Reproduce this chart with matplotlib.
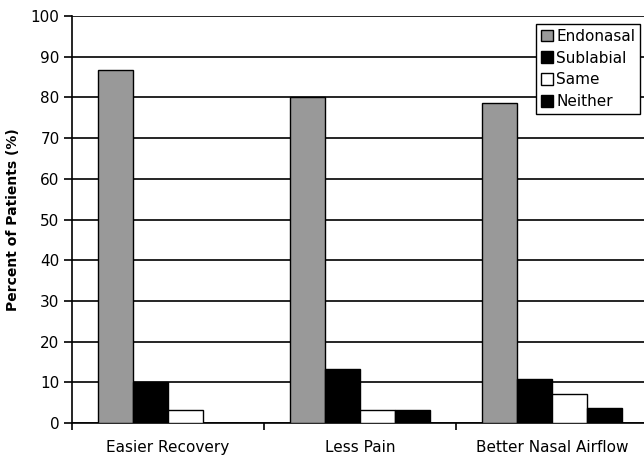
import numpy as np
import matplotlib.pyplot as plt
from matplotlib.ticker import FixedLocator

categories = ['Easier Recovery', 'Less Pain', 'Better Nasal Airflow']
endonasal = [86.7, 80.0, 78.6]
sublabial = [10.0, 13.3, 10.7]
same = [3.3, 3.3, 7.1]
neither = [0.0, 3.3, 3.6]

series = [('Endonasal', endonasal, '#999999'),
          ('Sublabial', sublabial, 'black'),
          ('Same', same, 'white'),
          ('Neither', neither, 'black')]

fig = plt.figure(figsize=(6.44, 4.57), dpi=100)
ax = fig.add_axes([72 / 644, 34 / 457, 576 / 644, 407 / 457])

x = np.arange(len(categories))
w = 0.182
for i, (name, vals, col) in enumerate(series):
    ax.bar(x + (i - 1.5) * w, vals, w, color=col, edgecolor='black',
           linewidth=1.0, label=name, zorder=3)

ax.set_xlim(-0.5, 2.5)
ax.set_ylim(0, 100)
ax.set_yticks(np.arange(0, 101, 10))
ax.yaxis.grid(True, color='black', linewidth=1.2, zorder=0)
ax.set_xticks([-0.5, 0.5, 1.5, 2.5])
ax.set_xticklabels([])
ax.xaxis.set_minor_locator(FixedLocator(x))
ax.set_xticklabels(categories, minor=True)
ax.tick_params(axis='x', which='minor', length=0, pad=12, labelsize=11)
ax.tick_params(axis='x', which='major', length=5, width=1.2, direction='out')
ax.tick_params(axis='y', length=6, width=1.2, labelsize=11, pad=3)
ax.spines['right'].set_visible(False)
ax.spines['top'].set_visible(False)
ax.spines['left'].set_linewidth(1.2)
ax.spines['bottom'].set_linewidth(1.2)

ax.set_ylabel('Percent of Patients (%)', fontsize=10, fontweight='bold', labelpad=8)

leg = ax.legend(loc='upper right', bbox_to_anchor=(0.986, 0.98),
                fontsize=11, handlelength=0.8, handleheight=0.8,
                handletextpad=0.2, labelspacing=0.45, borderpad=0.3,
                borderaxespad=0.0,
                fancybox=False, framealpha=1, edgecolor='black')
leg.get_frame().set_linewidth(1.0)

fig.savefig('out.png', dpi=100)
